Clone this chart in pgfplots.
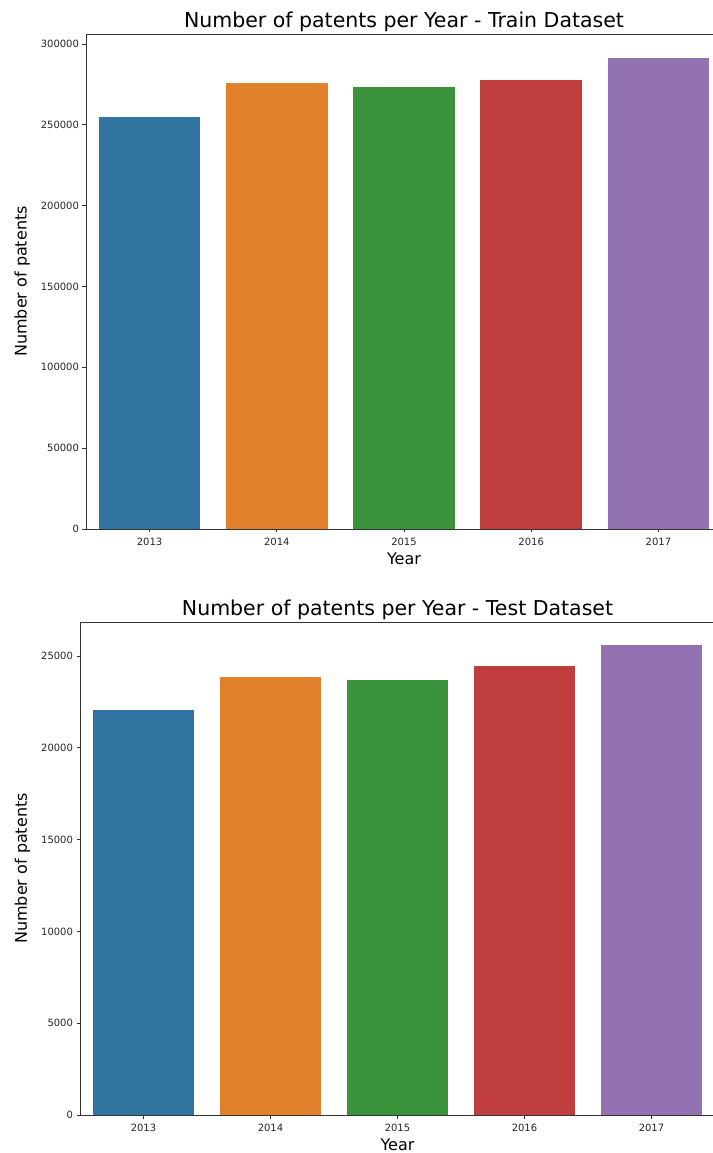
\documentclass[border=0pt]{standalone}
\usepackage{pgfplots}
\pgfplotsset{compat=1.18}
\usepackage{fontspec}
\setmainfont{DejaVu Sans}
\definecolor{c1}{HTML}{3274A1}
\definecolor{c2}{HTML}{E1812C}
\definecolor{c3}{HTML}{3A923A}
\definecolor{c4}{HTML}{C03D3E}
\definecolor{c5}{HTML}{9372B2}
\definecolor{spine}{HTML}{333333}
\begin{document}
\begin{tikzpicture}
\path[use as bounding box] (0pt,0pt) rectangle (712pt,1153pt);
\pgfplotsset{
  myax/.style={
    scale only axis, ybar, bar width=0.8, bar shift=0pt,
    xmin=-0.5, xmax=4.5, ymin=0,
    xtick={0,1,2,3,4}, xticklabels={2013,2014,2015,2016,2017},
    tick align=outside, xtick pos=bottom, ytick pos=left,
    major tick length=3.5pt,
    tick style={spine, line width=0.8pt},
    axis line style={spine, line width=0.8pt},
    tick label style={font=\fontsize{10}{12}\selectfont, text=black!85},
    xticklabel style={yshift=-2pt},
    label style={font=\fontsize{16}{19}\selectfont},
    title style={font=\fontsize{20.5}{24}\selectfont, yshift=-7pt},
    /pgf/number format/assume math mode=true,
    /pgf/number format/fixed,
    /pgf/number format/1000 sep={},
    scaled y ticks=false,
    xlabel={Year}, ylabel={Number of patents},
    xlabel style={yshift=0pt},
    ylabel style={yshift=4pt},
  }
}
\begin{axis}[myax, at={(86pt,624pt)}, anchor=south west, width=636pt, height=495pt,
  ymax=306142, ytick={0,50000,100000,150000,200000,250000,300000},
  title={Number of patents per Year - Train Dataset}]
\addplot[fill=c1, draw=none] coordinates {(0,255100)};
\addplot[fill=c2, draw=none] coordinates {(1,276100)};
\addplot[fill=c3, draw=none] coordinates {(2,273250)};
\addplot[fill=c4, draw=none] coordinates {(3,277800)};
\addplot[fill=c5, draw=none] coordinates {(4,291560)};
\end{axis}
\begin{axis}[myax, at={(80pt,38pt)}, anchor=south west, width=635pt, height=493pt,
  ymax=26859, ytick={0,5000,10000,15000,20000,25000},
  title={Number of patents per Year - Test Dataset}]
\addplot[fill=c1, draw=none] coordinates {(0,22050)};
\addplot[fill=c2, draw=none] coordinates {(1,23840)};
\addplot[fill=c3, draw=none] coordinates {(2,23680)};
\addplot[fill=c4, draw=none] coordinates {(3,24475)};
\addplot[fill=c5, draw=none] coordinates {(4,25580)};
\end{axis}
\end{tikzpicture}
\end{document}
